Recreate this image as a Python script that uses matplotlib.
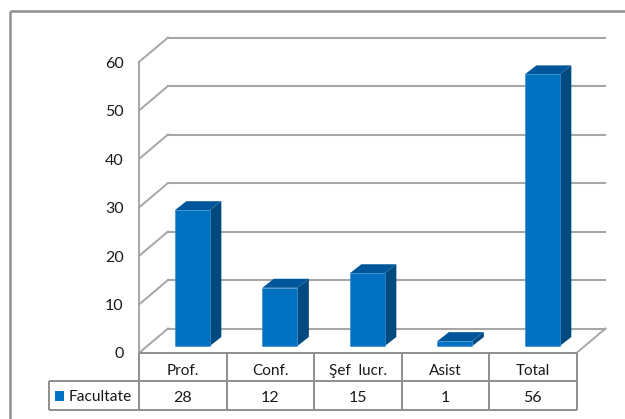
import matplotlib
matplotlib.use("Agg")
import matplotlib.pyplot as plt
from matplotlib.lines import Line2D
from matplotlib.patches import Polygon, Rectangle

# Date
categorii = ["Prof.", "Conf.", "Şef  lucr.", "Asist", "Total"]
valori = [28, 12, 15, 1, 56]
serie = "Facultate"
y_ticks = [0, 10, 20, 30, 40, 50, 60]

# Culori
C_FATA = "#0070C0"
C_LATURA = "#004A7F"
C_SUS = "#00569B"
C_GRID = "#A6A6A6"
C_TABEL = "#8E8E8E"
C_TEXT = "#1A1A1A"

W, H = 625, 419
plt.rcParams["font.family"] = ["Lato", "DejaVu Sans"]

fig = plt.figure(figsize=(W / 100, H / 100), dpi=100)
fig.patch.set_facecolor("white")


def fx(px):
    return px / W


def fy(py):
    return 1 - py / H


def linie_fig(x0, y0, x1, y1, color=C_TABEL, lw=1.4):
    fig.add_artist(Line2D([fx(x0), fx(x1)], [fy(y0), fy(y1)], color=color, lw=lw,
                          solid_capstyle="butt"))


# Chenarul exterior
linie_fig(10, 11, 625, 11, lw=1.8)
linie_fig(10, 11, 10, 419, lw=1.8)

# Axa principala: x = categorii, y = valori
x0_px, x1_px = 139, 576.5
y0_px, y60_px = 353, 62
ax = fig.add_axes([fx(x0_px), fy(y0_px), (x1_px - x0_px) / W, (y0_px - y60_px) / H])
ax.set_xlim(-0.5, len(categorii) - 0.5)
ax.set_ylim(0, 60)
ax.axis("off")

px_x = (x1_px - x0_px) / len(categorii)
px_y = (y0_px - y60_px) / 60
# Adancimea peretilor si a barelor, convertita din pixeli in unitati de date
ad_x, ad_y = 29 / px_x, 24.5 / px_y
bara_dx, bara_dy = 9.6 / px_x, 7 / px_y
bara_ax, bara_ay = 11.5 / px_x, 9 / px_y
latime = 35 / px_x

# Grila, peretii si etichetele axei y
for t in y_ticks:
    ax.plot([-0.5, -0.5 + ad_x], [t, t + ad_y], color=C_GRID, lw=1.4, clip_on=False, zorder=1)
    ax.plot([-0.5 + ad_x, len(categorii) - 0.5 + ad_x], [t + ad_y, t + ad_y],
            color=C_GRID, lw=1.5, clip_on=False, zorder=1)
    ax.annotate(str(t), (-0.5, t), xytext=(-15.5, -1.5), textcoords="offset pixels",
                ha="right", va="center", fontsize=11.5, color=C_TEXT)
ax.plot([-0.5, -0.5], [0, 60], color=C_GRID, lw=1.4, clip_on=False, zorder=1)
ax.plot([len(categorii) - 0.5, len(categorii) - 0.5 + ad_x], [0, ad_y],
        color=C_GRID, lw=1.4, clip_on=False, zorder=1)

# Barele 3D
for i, v in enumerate(valori):
    st = i - latime / 2 + bara_dx
    dr = st + latime
    jos = bara_dy
    sus = bara_dy + v
    ax.add_patch(Polygon([(dr, jos), (dr + bara_ax, jos + bara_ay),
                          (dr + bara_ax, sus + bara_ay), (dr, sus)],
                         facecolor=C_LATURA, edgecolor="none", clip_on=False, zorder=3))
    ax.add_patch(Polygon([(st, sus), (st + bara_ax, sus + bara_ay),
                          (dr + bara_ax, sus + bara_ay), (dr, sus)],
                         facecolor=C_SUS, edgecolor="none", clip_on=False, zorder=3))
    ax.add_patch(Rectangle((st, jos), latime, v, facecolor=C_FATA, edgecolor="#3C8FCC",
                           lw=0.5, clip_on=False, zorder=4))

# Tabelul de date de sub grafic
rand_sus, rand_mij, rand_jos = 353, 381, 410
col_x = [x0_px + k * px_x for k in range(len(categorii) + 1)]
linie_fig(x0_px, rand_sus, x1_px, rand_sus)
linie_fig(49, rand_mij, x1_px, rand_mij)
linie_fig(49, rand_jos, x1_px, rand_jos)
linie_fig(49, rand_mij, 49, rand_jos)
for cx in col_x:
    linie_fig(cx, rand_sus, cx, rand_jos)

for i, (nume, v) in enumerate(zip(categorii, valori)):
    mijloc = fx((col_x[i] + col_x[i + 1]) / 2)
    fig.text(mijloc, fy((rand_sus + rand_mij) / 2 + 4), nume, ha="center", va="center",
             fontsize=11, color=C_TEXT)
    fig.text(mijloc, fy((rand_mij + rand_jos) / 2 + 2), str(v), ha="center", va="center",
             fontsize=11.5, color=C_TEXT)

# Legenda din tabel
fig.add_artist(Rectangle((fx(55), fy(401)), 9 / W, 10 / H, facecolor=C_FATA, edgecolor="none",
                         transform=fig.transFigure))
fig.text(fx(69), fy(396.5), serie, ha="left", va="center", fontsize=11.2, color=C_TEXT)

fig.savefig("out.png", dpi=100)
